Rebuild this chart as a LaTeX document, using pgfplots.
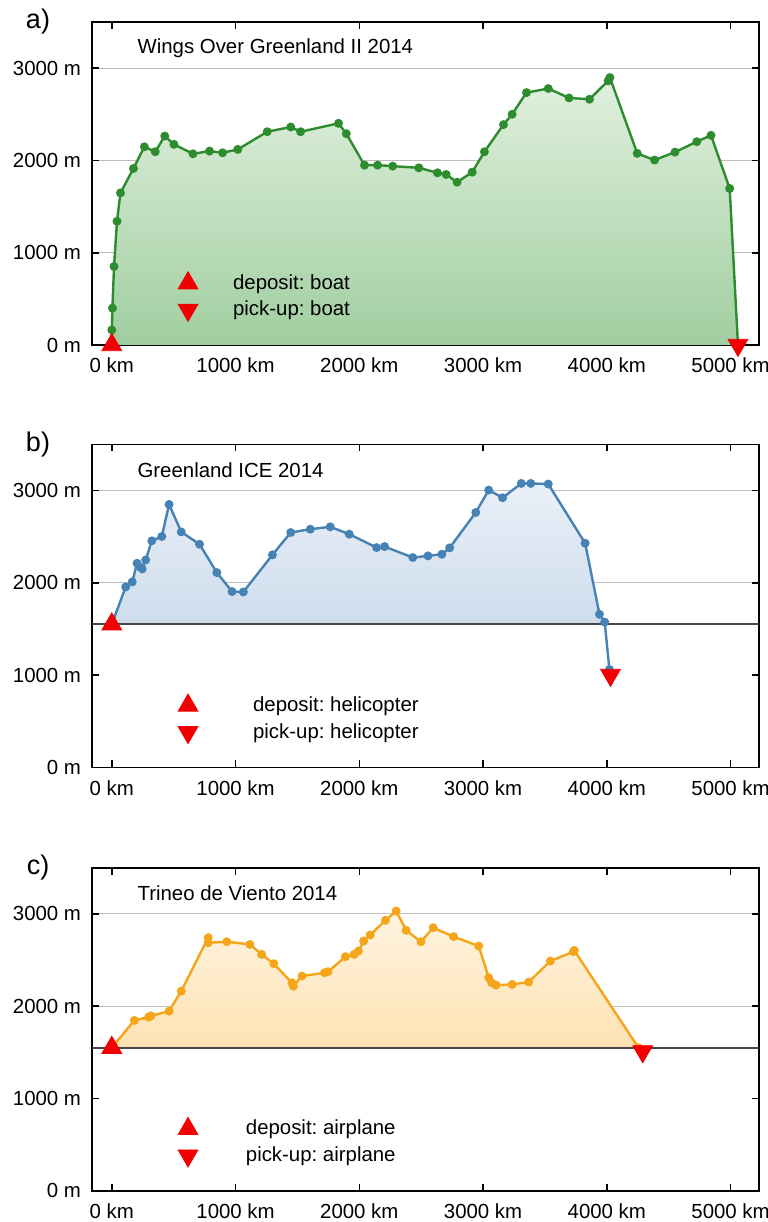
\documentclass[border=0pt]{standalone}
\usepackage{fontspec}
\setmainfont{Liberation Sans}
\usepackage{pgfplots}
\usepackage{pgfplotstable}
\pgfplotsset{compat=1.18}

\definecolor{grnline}{RGB}{45,140,45}
\definecolor{grntop}{RGB}{225,240,222}
\definecolor{grnbot}{RGB}{160,206,160}
\definecolor{bluline}{RGB}{70,130,180}
\definecolor{blutop}{RGB}{234,240,248}
\definecolor{blubot}{RGB}{205,220,236}
\definecolor{orgline}{RGB}{245,165,25}
\definecolor{orgtop}{RGB}{254,244,225}
\definecolor{orgbot}{RGB}{254,226,178}
\definecolor{trired}{RGB}{240,0,0}
\definecolor{gridgray}{RGB}{190,190,190}
\definecolor{basegray}{RGB}{70,70,70}

\newcommand{\lab}{\fontsize{10.2bp}{12.2bp}\selectfont\frenchspacing}

% route profiles: distance (km), altitude (m)
\pgfplotstableread{
km m
0 0
0 163
5 399
18 851
42 1341
70 1648
175 1913
263 2148
351 2094
428 2264
502 2174
656 2072
790 2101
895 2083
1018 2119
1256 2311
1446 2362
1526 2311
1832 2402
1895 2290
2042 1949
2148 1949
2270 1938
2481 1920
2632 1866
2702 1848
2790 1764
2912 1873
3011 2094
3165 2388
3235 2500
3351 2735
3527 2779
3695 2677
3860 2663
4011 2862
4025 2898
4246 2076
4386 2004
4551 2090
4727 2203
4842 2272
4993 1696
5060 0
}\routea

\pgfplotstableread{
km m
0 1550
112 1954
165 2009
204 2211
228 2170
246 2150
274 2247
323 2454
404 2501
463 2848
561 2551
709 2417
849 2110
972 1904
1063 1900
1298 2302
1446 2544
1604 2580
1765 2606
1919 2526
2140 2381
2204 2392
2432 2273
2555 2291
2667 2309
2730 2378
2941 2761
3046 3004
3158 2921
3309 3076
3386 3076
3527 3069
3825 2428
3941 1658
3983 1574
4021 1060
}\routeb

\pgfplotstableread{
km m
0 1550
112 1954
165 2009
204 2211
228 2170
246 2150
274 2247
323 2454
404 2501
463 2848
561 2551
709 2417
849 2110
972 1904
1063 1900
1298 2302
1446 2544
1604 2580
1765 2606
1919 2526
2140 2381
2204 2392
2432 2273
2555 2291
2667 2309
2730 2378
2941 2761
3046 3004
3158 2921
3309 3076
3386 3076
3527 3069
3825 2428
3941 1658
3983 1574
3985 1550
}\routebfill

\pgfplotstableread{
km m
0 1550
182 1845
298 1881
316 1895
463 1946
561 2163
779 2742
779 2687
930 2698
1116 2669
1211 2561
1309 2460
1456 2253
1467 2217
1537 2326
1719 2362
1747 2373
1888 2536
1958 2561
1993 2597
2035 2706
2088 2771
2211 2930
2298 3031
2379 2821
2498 2698
2597 2850
2762 2753
2965 2651
3046 2308
3070 2253
3105 2228
3235 2235
3369 2261
3544 2489
3730 2590
3737 2604
4256 1550
}\routec

\pgfplotsset{
  profile/.style={
    scale only axis, width=333.5bp, height=161.5bp,
    xmin=-160, xmax=5230, ymin=0, ymax=3500,
    xtick={0,1000,2000,3000,4000,5000},
    xticklabels={0 km,1000 km,2000 km,3000 km,4000 km,5000 km},
    ytick={0,1000,2000,3000},
    yticklabels={0 m,1000 m,2000 m,3000 m},
    tick align=inside, tick pos=both, major tick length=3.5bp,
    tick style={black, line width=0.8bp},
    axis line style={line width=0.8bp},
    tick label style={font=\lab},
    xticklabel style={yshift=-3bp},
    yticklabel style={xshift=-2bp},
    grid style={gridgray, line width=0.6bp},
    clip=false,
    legend style={draw=none, fill=none, inner sep=0pt, font=\lab,
      nodes={inner sep=0pt}, row sep=4.5bp, anchor=west, at={(0.1286,0.15)}},
    legend cell align=left,
  },
  profline/.style={color=#1, line width=1.2bp, mark=*, mark size=1.6bp,
    mark options={solid, fill=#1, draw=#1}},
  tri/.style={only marks, mark=triangle*, mark size=5.7bp, color=trired},
  gridbc/.style={extra y ticks={2000,3000}, extra y tick labels={},
    extra y tick style={grid=major}},
}

\newcommand{\legup}{\addlegendimage{legend image code/.code={\draw[trired] plot[mark=triangle*, mark size=5.7bp] coordinates {(0cm,0cm)};}}}
\newcommand{\legdown}{\addlegendimage{legend image code/.code={\draw[trired] plot[mark=triangle*, mark size=5.7bp, mark options={rotate=180}] coordinates {(0cm,0cm)};}}}

\begin{document}
\begin{tikzpicture}
\useasboundingbox (0,0) rectangle (384bp,-611bp);

% a) Wings Over Greenland II
\begin{axis}[profile, at={(46bp,-11bp)}, anchor=north west, ymajorgrids,
  legend style={/tikz/every odd column/.append style={column sep=17.6bp}}]
\addplot[draw=none, top color=grntop, bottom color=grnbot, forget plot] table {\routea};
\addplot[profline=grnline, forget plot] table {\routea};
\addplot[tri, forget plot] coordinates {(0,0)};
\addplot[tri, mark options={rotate=180}, forget plot] coordinates {(5060,0)};
\legup
\addlegendentry{deposit: boat}
\legdown
\addlegendentry{pick-up: boat}
\node[anchor=west, inner sep=0pt, font=\lab] at (axis cs:205,3220) {Wings Over Greenland II 2014};
\end{axis}
\node[font=\fontsize{13.5bp}{15bp}\selectfont] at (19bp,-11bp) {a)};

% b) Greenland ICE
\begin{axis}[profile, gridbc, at={(46bp,-222.15bp)}, anchor=north west,
  legend style={/tikz/every odd column/.append style={column sep=27.6bp}}]
\addplot[draw=none, top color=blutop, bottom color=blubot, forget plot] table {\routebfill};
\addplot[basegray, line width=1bp, forget plot] coordinates {(-160,1550) (5230,1550)};
\addplot[profline=bluline, forget plot] table {\routeb};
\addplot[tri, forget plot] coordinates {(0,1550)};
\addplot[tri, mark options={rotate=180}, forget plot] coordinates {(4030,1000)};
\legup
\addlegendentry{deposit: helicopter}
\legdown
\addlegendentry{pick-up: helicopter}
\node[anchor=west, inner sep=0pt, font=\lab] at (axis cs:205,3220) {Greenland ICE 2014};
\end{axis}
\node[font=\fontsize{13.5bp}{15bp}\selectfont] at (19bp,-222.15bp) {b)};

% c) Trineo de Viento
\begin{axis}[profile, gridbc, at={(46bp,-433.85bp)}, anchor=north west,
  legend style={/tikz/every odd column/.append style={column sep=24bp}}]
\addplot[draw=none, top color=orgtop, bottom color=orgbot, forget plot] table {\routec};
\addplot[basegray, line width=1bp, forget plot] coordinates {(-160,1550) (5230,1550)};
\addplot[profline=orgline, forget plot] table {\routec};
\addplot[tri, forget plot] coordinates {(0,1550)};
\addplot[tri, mark options={rotate=180}, forget plot] coordinates {(4290,1510)};
\legup
\addlegendentry{deposit: airplane}
\legdown
\addlegendentry{pick-up: airplane}
\node[anchor=west, inner sep=0pt, font=\lab] at (axis cs:205,3220) {Trineo de Viento 2014};
\end{axis}
\node[font=\fontsize{13.5bp}{15bp}\selectfont] at (19bp,-433.85bp) {c)};
\end{tikzpicture}
\end{document}
